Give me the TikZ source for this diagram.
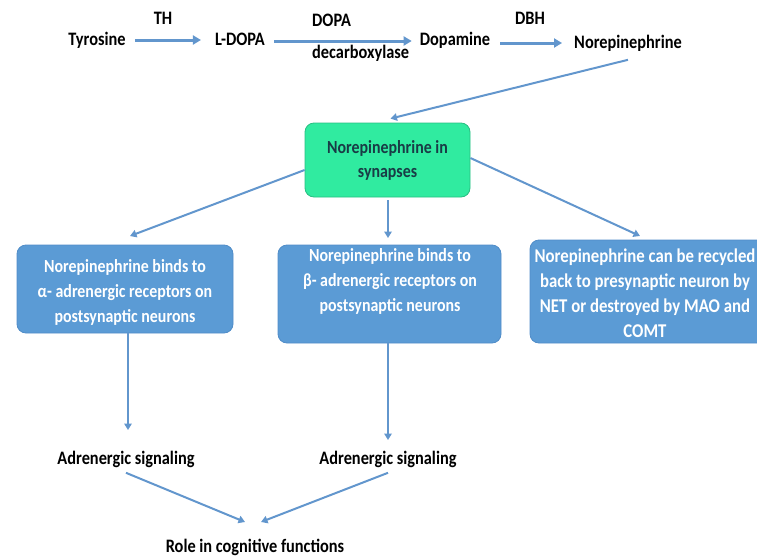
\documentclass[tikz,border=0pt]{standalone}
\usepackage{fontspec}
\setmainfont{Carlito}[FakeStretch=0.86]
\usetikzlibrary{arrows.meta}
\definecolor{arr}{RGB}{98,150,205}
\definecolor{boxblue}{RGB}{91,155,213}
\definecolor{boxedge}{RGB}{80,140,200}
\definecolor{mint}{RGB}{48,235,160}
\definecolor{mintedge}{RGB}{40,190,130}
\definecolor{darkteal}{RGB}{25,60,70}
\tikzset{
  lbl/.style={font=\bfseries\fontsize{19}{22}\selectfont, text=black, inner sep=0pt,
    text height=0.7em, text depth=0.22em},
  conn/.style={draw=arr, line width=3pt, -{Triangle[length=8pt,width=9pt]}},
  thin conn/.style={draw=arr, line width=2pt, -{Triangle[length=6.5pt,width=7.5pt]}},
  boxtext/.style={text=white, font=\bfseries\fontsize{18.5}{25}\selectfont, align=center, inner sep=0pt},
  bluebox/.style={rounded corners=9pt, fill=boxblue, draw=boxedge, line width=0.8pt},
  greenbox/.style={rounded corners=9pt, fill=mint, draw=mintedge, line width=0.8pt,
    text=darkteal, font=\bfseries\fontsize{18.5}{24}\selectfont, align=center, inner sep=0pt}
}
\begin{document}
\begin{tikzpicture}[x=1pt,y=-1pt]
\useasboundingbox (0,0) rectangle (757,557);
\begin{scope}
\clip (0,0) rectangle (757,557);
% top pathway
\node[lbl] (tyr) at (97,43) {Tyrosine};
\node[lbl] (ldopa) at (240,43) {L-DOPA};
\node[lbl] (dopa) at (455,43) {Dopamine};
\node[lbl] (ne) at (628,46) {Norepinephrine};
\node[lbl] (th) at (163,22) {TH};
\node[lbl, anchor=west] (dd1) at (312,24) {DOPA};
\node[lbl, anchor=west] (dd2) at (312,56) {decarboxylase};
\node[lbl] (dbh) at (530,22) {DBH};
\draw[conn] ([xshift=9pt,yshift=3pt]tyr.east) -- ([xshift=-14pt,yshift=3pt]tyr.east -| ldopa.west);
\draw[conn] ([xshift=9pt,yshift=2pt]ldopa.east) -- ([xshift=-8pt,yshift=2pt]ldopa.east -| dopa.west);
\draw[conn] ([xshift=10pt,yshift=0pt]dopa.east) -- ([xshift=-12pt,yshift=0pt]dopa.east -| ne.west);
% green box
\node[greenbox, minimum width=165pt, minimum height=74pt] (syn) at (387.5,160) {Norepinephrine in\\synapses};
\draw[thin conn] ([yshift=-9pt]ne.south) -- ([xshift=3pt,yshift=4pt]syn.north);
% blue boxes
\node[bluebox, minimum width=216pt, minimum height=88pt] (b1) at (125,289) {};
\node[boxtext] (b1t) at (125,292) {Norepinephrine binds to\\α- adrenergic receptors on\\postsynaptic neurons};
\node[bluebox, minimum width=223pt, minimum height=98pt] (b2) at (389.5,294) {};
\node[boxtext] (b2t) at (390,281) {Norepinephrine binds to\\β- adrenergic receptors on\\postsynaptic neurons};
\node[bluebox, minimum width=240pt, minimum height=103pt] (b3) at (650,291.5) {};
\node[boxtext, font=\bfseries\fontsize{19.5}{25}\selectfont] (b3t) at (645,293) {Norepinephrine can be recycled\\back to presynaptic neuron by\\NET or destroyed by MAO and\\COMT};
\draw[thin conn] (syn.west |- 0,170) -- (130,236);
\draw[thin conn] ([yshift=-3pt]syn.south -| 388,0) -- (388,238);
\draw[thin conn] (syn.east |- 0,158) -- (640,236);
% signaling
\node[lbl] (as1) at (126,462) {Adrenergic signaling};
\node[lbl] (as2) at (388,462) {Adrenergic signaling};
\node[lbl] (role) at (255,550) {Role in cognitive functions};
\draw[thin conn] (b1.south -| 128,0) -- (128,430);
\draw[thin conn] (b2.south -| 388,0) -- (388,440);
\draw[thin conn] ([yshift=-6pt]as1.south) -- (245,522);
\draw[thin conn] ([yshift=-6pt]as2.south) -- (261,522);
\end{scope}
\end{tikzpicture}
\end{document}
